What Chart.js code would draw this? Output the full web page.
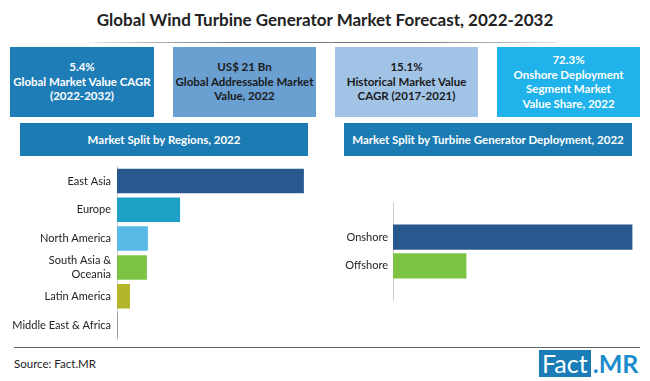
<!DOCTYPE html>
<html><head><meta charset="utf-8">
<script src="https://cdn.jsdelivr.net/npm/chart.js@4"></script>
<style>
html,body{margin:0;padding:0;background:#fff;}
#wrap{position:relative;width:650px;height:381px;overflow:hidden;font-family:Lato,"Open Sans",sans-serif;}
.title{position:absolute;left:0;top:9px;width:650px;text-align:center;font-size:17px;font-weight:bold;color:#222;}
.tline{position:absolute;left:95px;top:42px;width:461px;height:1px;background:linear-gradient(90deg,#ddd,#777 30%,#777 70%,#ddd);}
.box{position:absolute;top:47px;height:70px;display:flex;align-items:center;justify-content:center;text-align:center;color:#fff;font-weight:bold;font-size:11.5px;line-height:14.5px;}
.hdr{position:absolute;top:123px;height:33px;background:#1b7bb3;color:#fff;font-weight:bold;font-size:11.5px;display:flex;align-items:center;justify-content:center;}
canvas{position:absolute;}
.bline{position:absolute;left:14px;top:347px;width:626px;height:1px;background:#666;}
.src{position:absolute;left:14px;top:357px;font-size:11.5px;color:#222;}
.logo{position:absolute;left:539px;top:350px;height:27px;display:flex;align-items:stretch;font-size:25px;line-height:27px;}
.logo .f{background:#1b7db8;color:#fff;padding:0 3px;}
.logo .m{color:#1b8ccc;font-weight:bold;padding-left:2px;}
</style></head>
<body><div id="wrap">
<div class="title">Global Wind Turbine Generator Market Forecast, 2022-2032</div>
<div class="tline"></div>
<div class="box" style="left:10px;width:144px;background:#1e7db7;">5.4%<br>Global Market Value CAGR<br>(2022-2032)</div>
<div class="box" style="left:173px;width:143px;background:#6a9fd2;color:#1a1a1a;">US$ 21 Bn<br>Global Addressable Market<br>Value, 2022</div>
<div class="box" style="left:335px;width:143px;background:#a0c3e6;color:#1a1a1a;">15.1%<br>Historical Market Value<br>CAGR (2017-2021)</div>
<div class="box" style="left:497px;width:143px;background:#20b2ea;">72.3%<br>Onshore Deployment<br>Segment Market<br>Value Share, 2022</div>
<div class="hdr" style="left:20px;width:288px;">Market Split by Regions, 2022</div>
<div class="hdr" style="left:344px;width:288px;">Market Split by Turbine Generator Deployment, 2022</div>
<canvas id="c1" width="320" height="198" style="left:0;top:154px;"></canvas>
<canvas id="c2" width="330" height="121" style="left:320px;top:191px;"></canvas>
<div class="bline"></div>
<div class="src">Source: Fact.MR</div>
<div class="logo"><span class="f">Fact</span><span class="m">.MR</span></div>
</div>
<script>
const regions = [["East Asia"], ["Europe"], ["North America"], ["South Asia &", "Oceania"], ["Latin America"], ["Middle East & Africa"]];
const regionShare = [57.5, 19.4, 9.5, 9.2, 4.0, 0.3];
const regionColors = ["#27598f", "#1fa0c6", "#58b9e7", "#7cc243", "#b3b52b", "#9a9a9a"];
const deployments = ["Onshore", "Offshore"];
const deploymentShare = [72.3, 22.1];
const deploymentColors = ["#27598f", "#7cc243"];

const labelFont = {family: "Lato", size: 11};

new Chart(document.getElementById("c1"), {
  type: "bar",
  data: {labels: regions, datasets: [{data: regionShare, backgroundColor: regionColors, categoryPercentage: 1, barPercentage: 0.85}]},
  options: {
    indexAxis: "y", responsive: false, animation: false,
    layout: {padding: {top: 3, bottom: 5, right: 8, left: 0}},
    plugins: {legend: {display: false}, tooltip: {enabled: false}},
    scales: {
      x: {display: false, min: 0, max: 60},
      y: {grid: {display: false, drawTicks: false}, border: {display: true, color: "#cfcfcf", width: 1},
          ticks: {color: "#222", font: labelFont, padding: 6, autoSkip: false},
          afterFit: s => { s.width = 117; }}
    }
  }
});

new Chart(document.getElementById("c2"), {
  type: "bar",
  data: {datasets: [{data: deploymentShare.map((v, i) => ({x: v, y: i})), backgroundColor: deploymentColors, barThickness: 24.5}]},
  options: {
    indexAxis: "y", responsive: false, animation: false,
    layout: {padding: {top: 8, bottom: 5, right: 9, left: 0}},
    plugins: {legend: {display: false}, tooltip: {enabled: false}},
    scales: {
      x: {display: false, min: 0, max: 75},
      y: {type: "linear", min: -1.2, max: 2.2, reverse: true, offset: false,
          grid: {display: false, drawTicks: false}, border: {display: true, color: "#cfcfcf", width: 1},
          afterBuildTicks: s => { s.ticks = deployments.map((d, i) => ({value: i})); },
          ticks: {color: "#222", font: labelFont, padding: 5, autoSkip: false, callback: v => deployments[v] ?? ""},
          afterFit: s => { s.width = 73; }}
    }
  }
});
</script>
</body></html>
